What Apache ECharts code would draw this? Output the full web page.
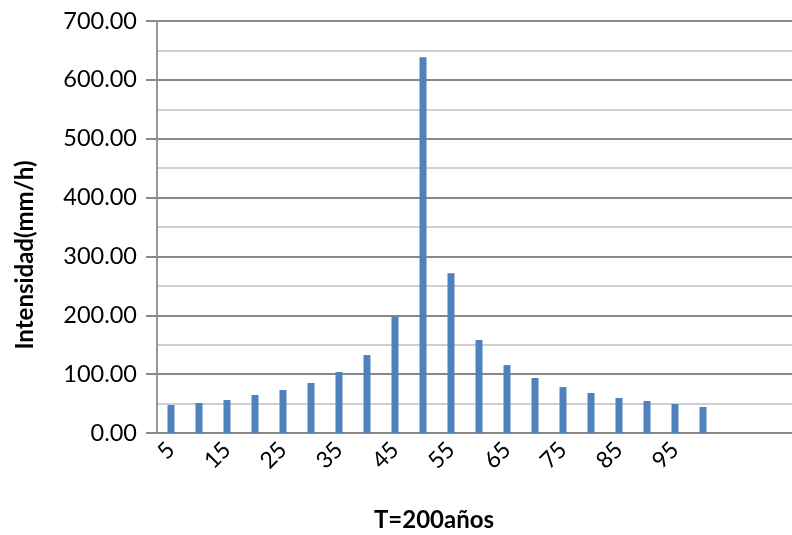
<!DOCTYPE html>
<html>
<head>
<meta charset="utf-8">
<script src="https://cdn.jsdelivr.net/npm/echarts@6/dist/echarts.min.js"></script>
<style>
  html, body { margin: 0; padding: 0; background: #fff; }
  #chart { width: 792px; height: 535px; }
</style>
</head>
<body>
<div id="chart"></div>
<script>
// duraciones (min) — las tres últimas categorías quedan vacías
var categorias = ['5', '10', '15', '20', '25', '30', '35', '40', '45', '50',
  '55', '60', '65', '70', '75', '80', '85', '90', '95', '100', '', '', ''];
// intensidad (mm/h) para T=200 años
var intensidad = [47.6, 51.0, 56.0, 64.6, 73.0, 85.0, 103.6, 132.4, 197.5, 638.4,
  271.6, 158.0, 115.4, 93.4, 78.0, 68.0, 59.5, 54.4, 49.3, 44.2];
var ejeY = { min: 0, max: 700, paso: 100 };

var myChart = echarts.init(document.getElementById('chart'));

var option = {
  animation: false,
  textStyle: { fontFamily: 'Lato' },
  // el eje X sigue hasta el borde derecho (se recorta)
  grid: { left: 157, top: 21, width: 644, height: 412, outerBoundsMode: 'none', containLabel: false },
  xAxis: {
    type: 'category',
    data: categorias,
    boundaryGap: true,
    name: 'T=200años',
    nameLocation: 'middle',
    nameGap: 75,
    nameTextStyle: {
      fontFamily: 'Lato', fontWeight: 'bold', fontSize: 24, color: '#000',
      padding: [0, 90, 0, 0]
    },
    axisLine: { lineStyle: { color: '#888', width: 2 } },
    axisTick: { show: false },
    axisLabel: {
      interval: 1,
      rotate: 45,
      margin: 13,
      fontSize: 23,
      color: '#000'
    },
    splitLine: { show: false }
  },
  yAxis: {
    type: 'value',
    min: ejeY.min,
    max: ejeY.max,
    interval: ejeY.paso,
    name: 'Intensidad(mm/h)',
    nameLocation: 'middle',
    nameRotate: 90,
    nameGap: 120,
    nameTextStyle: {
      fontFamily: 'Lato', fontWeight: 'bold', fontSize: 24, color: '#000',
      padding: [0, 56, 0, 0]
    },
    axisLine: { show: true, lineStyle: { color: '#999', width: 2 } },
    axisTick: { show: true, length: 11, lineStyle: { color: '#888', width: 2 } },
    axisLabel: {
      margin: 20,
      fontSize: 23.5,
      color: '#000',
      formatter: function (v) { return v.toFixed(2); }
    },
    splitLine: { show: true, lineStyle: { color: '#888', width: 2 } },
    minorTick: { show: false, splitNumber: 2 },
    minorSplitLine: { show: true, lineStyle: { color: '#cfcfcf', width: 2 } }
  },
  series: [{
    type: 'bar',
    data: intensidad,
    barWidth: 7,
    itemStyle: { color: '#4F81BD' }
  }]
};

myChart.setOption(option);
</script>
</body>
</html>
